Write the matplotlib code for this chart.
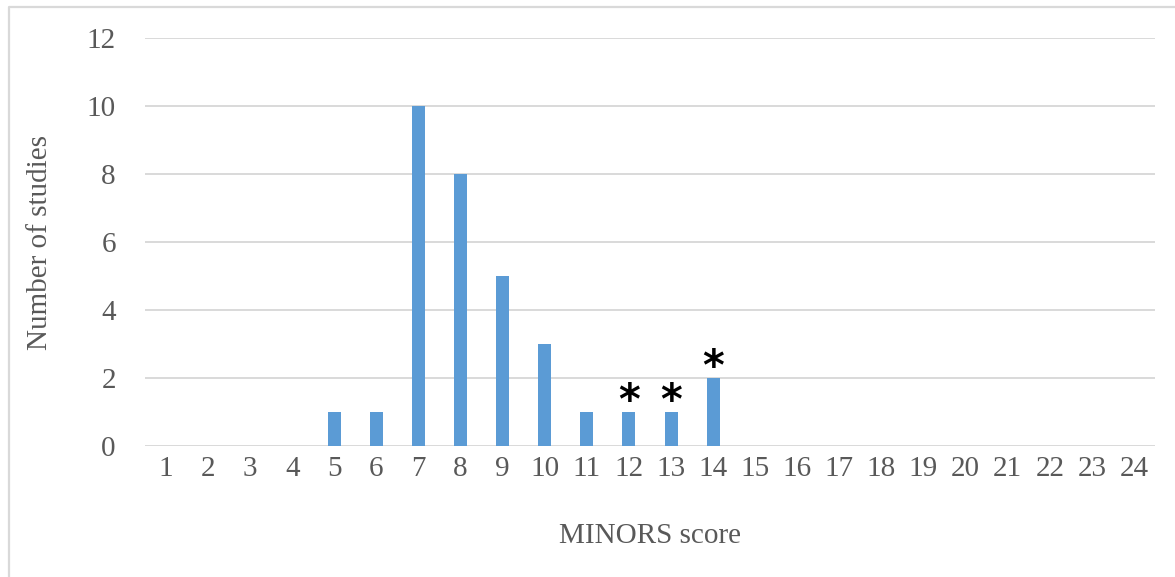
import matplotlib.pyplot as plt
from matplotlib.lines import Line2D
import numpy as np

# MINORS score distribution
scores = list(range(1, 25))
n_studies = [0, 0, 0, 0, 1, 1, 10, 8, 5, 3, 1, 1, 1, 2, 0, 0, 0, 0, 0, 0, 0, 0, 0, 0]
starred = [12, 13, 14]
y_ticks = [0, 2, 4, 6, 8, 10, 12]

bar_color = '#5b9bd5'
text_color = '#595959'
grid_color = '#d9d9d9'

plt.rcParams['font.family'] = ['Liberation Serif', 'DejaVu Serif']

fig = plt.figure(figsize=(11.75, 5.77), dpi=100)
ax = fig.add_axes([145 / 1175, 1 - 446 / 577, 1010 / 1175, 408 / 577])

x = np.arange(len(scores))
bars = ax.bar(x, n_studies, width=0.31, color=bar_color, zorder=3)

# asterisks above the marked bars
for s in starred:
    i = scores.index(s)
    ax.annotate('*', (x[i], n_studies[i]), xytext=(0, -8), textcoords='offset points',
                ha='center', va='bottom', fontsize=30, fontweight='bold', color='black',
                family='DejaVu Sans', zorder=4)

ax.set_xlim(-0.5, len(scores) - 0.5)
ax.set_ylim(0, 12)
ax.set_xticks(x)
ax.set_xticklabels([str(s) for s in scores])
ax.set_yticks(y_ticks)
ax.tick_params(axis='both', length=0, labelsize=21, colors=text_color)
ax.tick_params(axis='y', pad=21)
ax.tick_params(axis='x', pad=7)
ax.grid(axis='y', color=grid_color, linewidth=1.4, zorder=0)
for sp in ax.spines.values():
    sp.set_visible(False)

ax.set_xlabel('MINORS score', fontsize=21, color=text_color, labelpad=30)
ax.set_ylabel('Number of studies', fontsize=21, color=text_color, labelpad=24)

# frame lines along the top and left of the image
fig.add_artist(Line2D([8.5 / 1175, 8.5 / 1175, 1.0], [0.0, 1 - 6.5 / 577, 1 - 6.5 / 577],
                      transform=fig.transFigure, color=grid_color, linewidth=1.6))

fig.savefig('out.png', dpi=100)
